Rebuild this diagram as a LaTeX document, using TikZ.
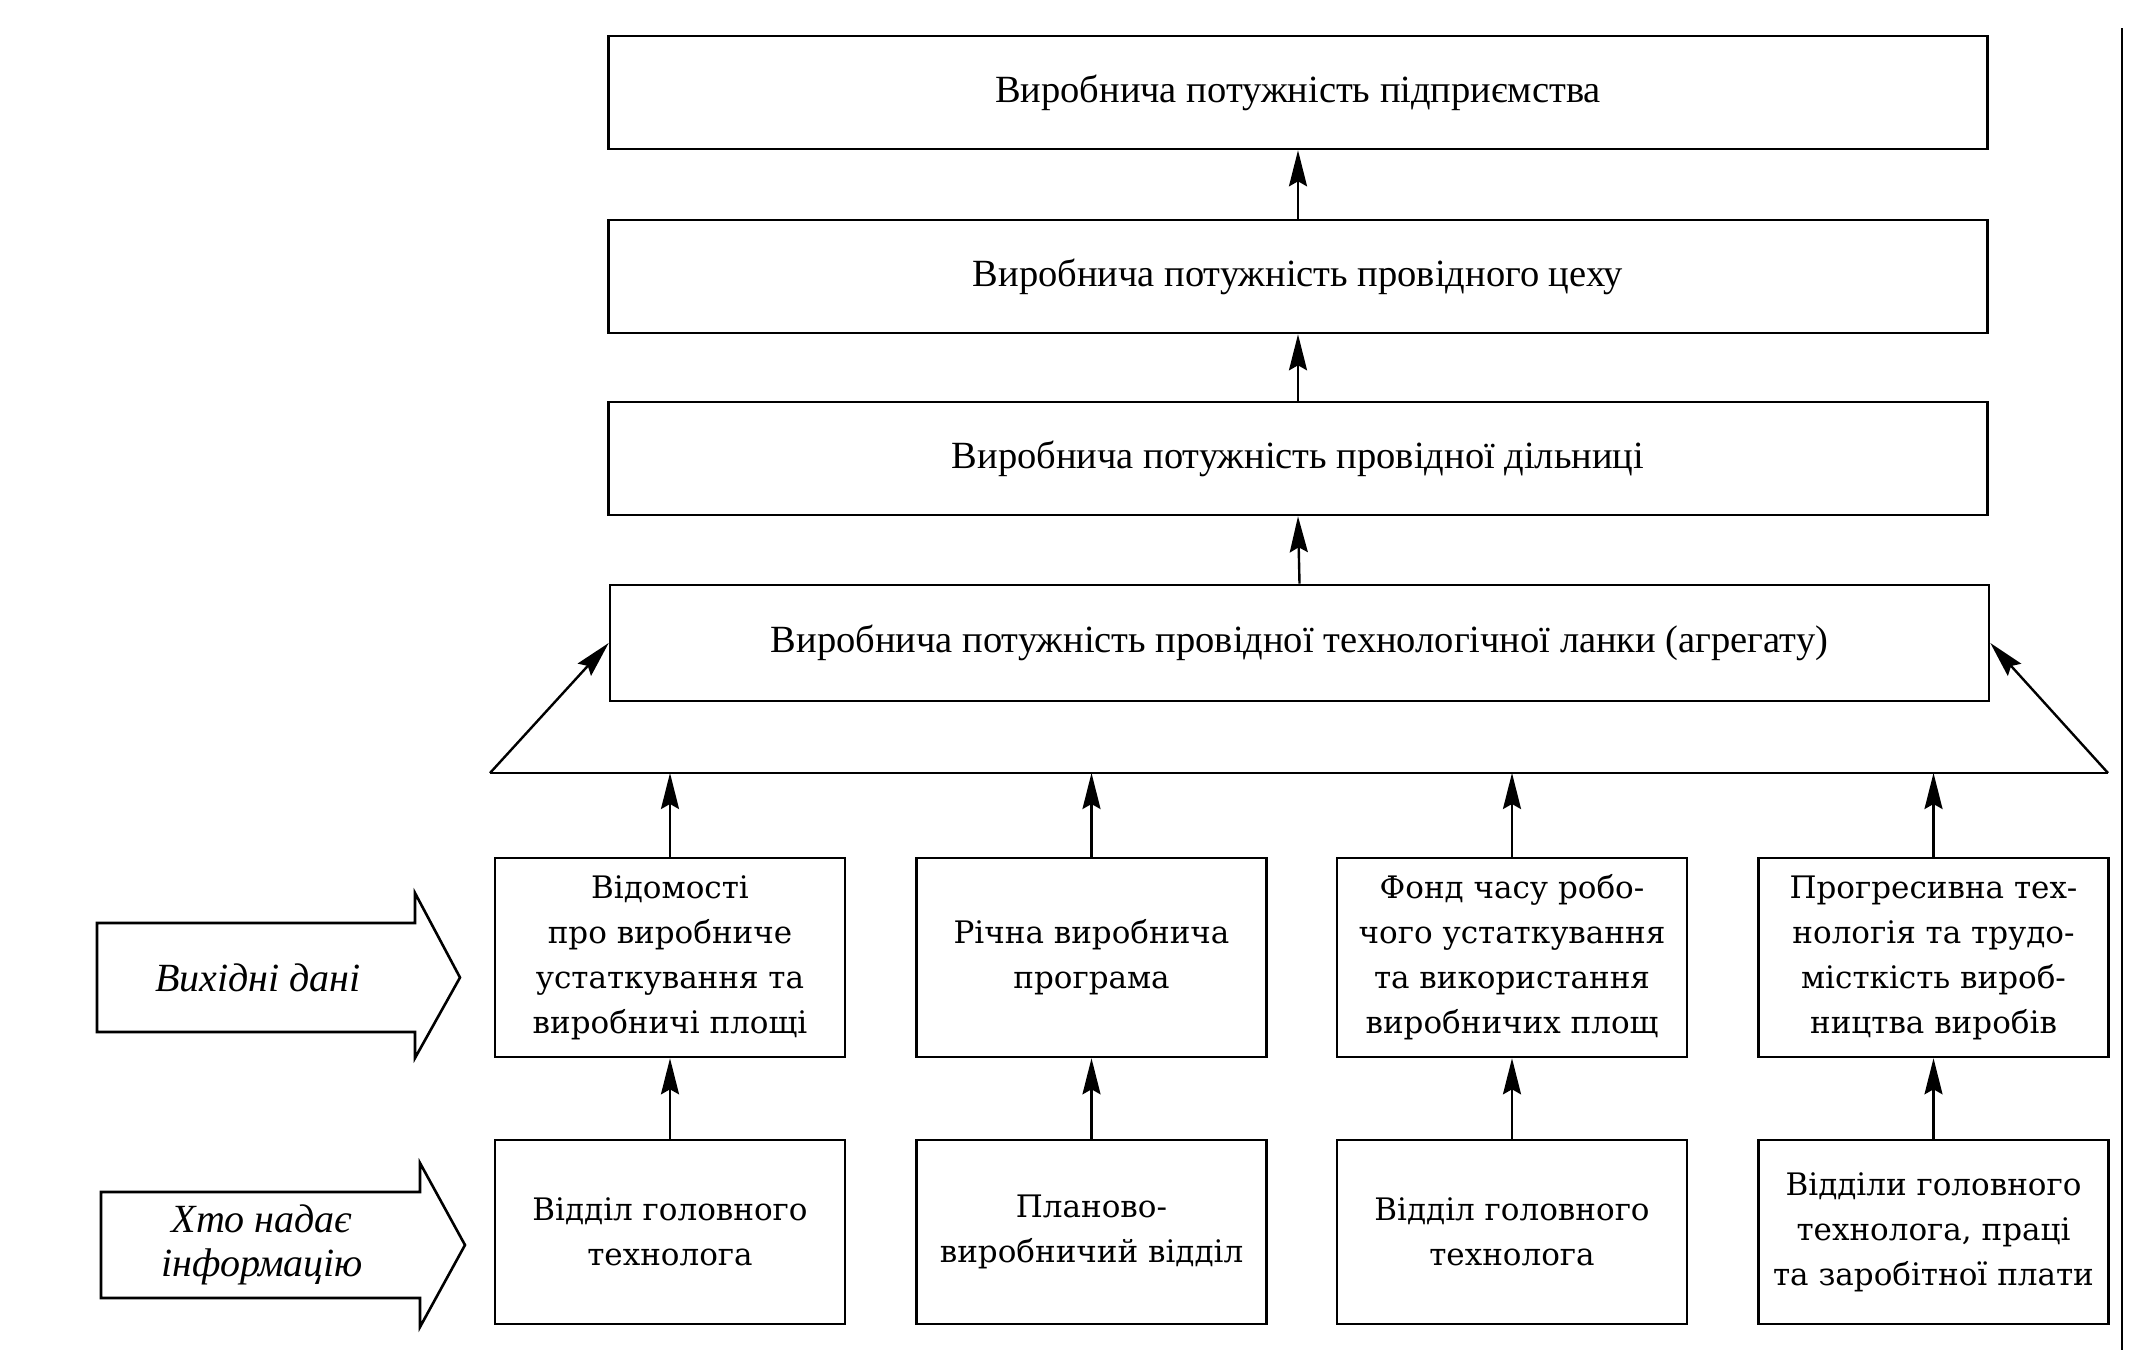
\documentclass[tikz,border=0pt]{standalone}
\usepackage{fontspec}
\setmainfont{Liberation Serif}
\newfontfamily\sch{DejaVu Serif}
\usetikzlibrary{arrows.meta}
\begin{document}
\begin{tikzpicture}[x=1pt,y=-1pt,
  topbox/.style={draw,line width=2.6pt,minimum width=1379pt,minimum height=113pt,inner sep=0pt,font=\fontsize{38.5}{44}\selectfont},
  databox/.style={draw,line width=2.6pt,minimum width=350pt,inner sep=0pt,align=center,font=\sch\fontsize{31}{45}\selectfont},
  conn/.style={line width=2.4pt,-{Stealth[length=36pt,width=18pt,inset=5pt]}},
  plain/.style={line width=2.4pt},
  bigarrow/.style={line width=2.6pt,line join=miter},
  lbl/.style={align=center,font=\itshape\fontsize{40}{44}\selectfont}]
\useasboundingbox (0,0) rectangle (2138,1350);

% top chain
\node[topbox] (t1) at (1298,92.5) {Виробнича потужність підприємства};
\node[topbox] (t2) at (1298,276.5) {Виробнича потужність провідного цеху};
\node[topbox] (t3) at (1298,458.5) {Виробнича потужність провідної дільниці};
\node[topbox,minimum height=116pt] (t4) at (1299.5,643) {Виробнича потужність провідної технологічної ланки (агрегату)};

\draw[conn] (t2.north) -- (t1.south);
\draw[conn] (t3.north) -- (t2.south);
\draw[conn] (t4.north) -- (t3.south);

% horizontal bar
\coordinate (hl) at (490,773);
\coordinate (hr) at (2108,773);
\draw[plain] (hl) -- (hr);
\draw[conn] (hl) -- (t4.west);
\draw[conn] (hr) -- (t4.east);

% middle row
\node[databox,minimum height=199pt] (m1) at (670,957.5) {Відомості\\про виробниче\\устаткування та\\виробничі площі};
\node[databox,minimum height=199pt] (m2) at (1091.5,957.5) {Річна виробнича\\програма};
\node[databox,minimum height=199pt] (m3) at (1512,957.5) {Фонд часу робо-\\чого устаткування\\та використання\\виробничих площ};
\node[databox,minimum height=199pt] (m4) at (1933.5,957.5) {Прогресивна тех-\\нологія та трудо-\\місткість вироб-\\ництва виробів};

% bottom row
\node[databox,minimum height=184pt] (b1) at (670,1232) {Відділ головного\\технолога};
\node[databox,minimum height=184pt] (b2) at (1091.5,1232) {Планово-\\виробничий відділ};
\node[databox,minimum height=184pt] (b3) at (1512,1232) {Відділ головного\\технолога};
\node[databox,minimum height=184pt] (b4) at (1933.5,1232) {Відділи головного\\технолога, праці\\та заробітної плати};

\foreach \i in {1,2,3,4}{
  \draw[conn] (m\i.north) -- (m\i.north |- hl);
  \draw[conn] (b\i.north) -- (m\i.south);
}

% left block arrows
\draw[bigarrow] (97,923) -- (415,923) -- (415,893) -- (460,977.5) -- (415,1058) -- (415,1032) -- (97,1032) -- cycle;
\node[lbl] (l1) at (258,977.5) {Вихідні дані};
\draw[bigarrow] (101,1192) -- (420,1192) -- (420,1163) -- (465,1245) -- (420,1327) -- (420,1298) -- (101,1298) -- cycle;
\node[lbl] (l2) at (262,1245) {Хто надає\\інформацію};

% page edge line
\draw[line width=2pt] (2122,28) -- (2122,1350);
\end{tikzpicture}
\end{document}
